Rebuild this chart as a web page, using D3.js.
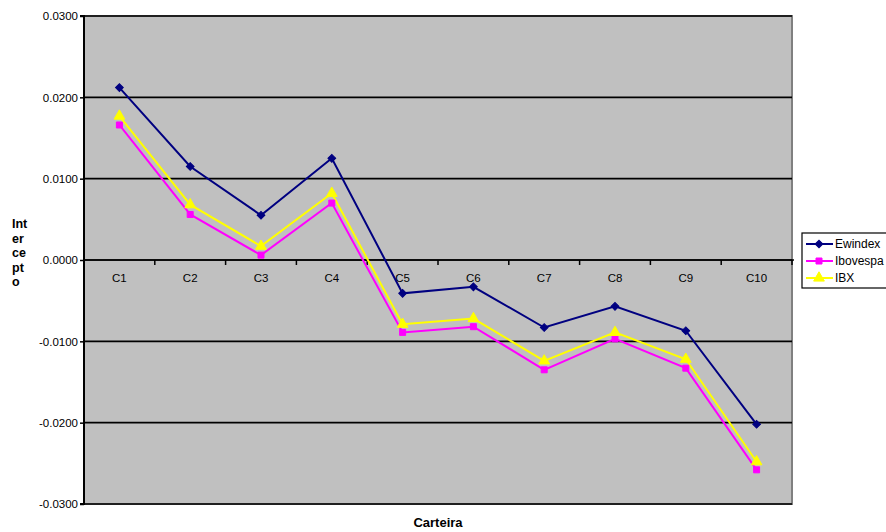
<!DOCTYPE html>
<html><head><meta charset="utf-8">
<script src="https://cdn.jsdelivr.net/npm/d3@7"></script>
<style>body{margin:0;background:#fff;}svg{display:block;font-family:Arial,"Liberation Sans",sans-serif;}</style>
</head><body>
<svg id="c" width="886" height="532"></svg>
<script>
const categories = ["C1","C2","C3","C4","C5","C6","C7","C8","C9","C10"];
const ewindex  = [0.0212,0.0115,0.0055,0.0125,-0.0041,-0.0033,-0.0083,-0.0057,-0.0087,-0.0202];
const ibovespa = [0.0166,0.0056,0.0006,0.0070,-0.0089,-0.0082,-0.0135,-0.0097,-0.0133,-0.0258];
const ibx      = [0.0177,0.0068,0.0017,0.0082,-0.0079,-0.0072,-0.0124,-0.0089,-0.0122,-0.0248];
const yTicks = [0.03,0.02,0.01,0,-0.01,-0.02,-0.03];
const seriesNames = ["Ewindex","Ibovespa","IBX"];
const xTitle = "Carteira";
const yTitleLines = ["Int","er","ce","pt","o"];

const series = [
  {name:seriesNames[0], values:ewindex, color:"#000080", sym:d3.symbolSquare, size:30, rot:45},
  {name:seriesNames[1], values:ibovespa, color:"#ff00ff", sym:d3.symbolSquare, size:36, rot:0},
  {name:seriesNames[2], values:ibx, color:"#ffff00", sym:d3.symbolTriangle, size:50, rot:0}
];

const svg = d3.select("#c");
const L=84, R=792, T=16, B=504;
const x = d3.scaleBand().domain(categories).range([L,R]).padding(0);
const y = d3.scaleLinear().domain([-0.03,0.03]).range([B,T]);

// plot area
svg.append("rect").attr("x",L).attr("y",T).attr("width",R-L).attr("height",B-T)
  .attr("fill","#c0c0c0").attr("stroke","#808080").attr("stroke-width",2);

// gridlines
svg.append("g").selectAll("line").data(yTicks).join("line")
  .attr("x1",L).attr("x2",R).attr("y1",d=>y(d)).attr("y2",d=>y(d))
  .attr("stroke","#000").attr("stroke-width",1.6);

// y axis
const yAxis = d3.axisLeft(y).tickValues(yTicks).tickSize(4).tickPadding(2).tickFormat(d3.format(".4f"));
const gy = svg.append("g").attr("transform",`translate(${L},0)`).call(yAxis);
gy.select(".domain").attr("stroke","#000").attr("stroke-width",2).attr("d",`M-4,${T}H0V${B}H-4`);
gy.selectAll(".tick line").attr("stroke","#000").attr("stroke-width",1.5);
gy.selectAll(".tick text").attr("font-size",11.5).attr("fill","#000")
  .attr("font-family","Arial,'Liberation Sans',sans-serif").text(d=>d3.format(".4f")(d).replace("−","-"));

// x axis at zero
const xAxis = d3.axisBottom(x).tickSize(0).tickPadding(14);
const gx = svg.append("g").attr("transform",`translate(0,${y(0)})`).call(xAxis);
gx.select(".domain").remove();
gx.selectAll(".tick text").attr("font-size",11.5).attr("fill","#000")
  .attr("font-family","Arial,'Liberation Sans',sans-serif");
// tick marks at band boundaries
const bounds = categories.map(c=>x(c)).concat([R]);
svg.append("g").selectAll("line").data(bounds).join("line")
  .attr("x1",d=>d).attr("x2",d=>d).attr("y1",y(0)).attr("y2",y(0)+5)
  .attr("stroke","#000").attr("stroke-width",1.5);
svg.append("line").attr("x1",L).attr("x2",R+2).attr("y1",y(0)).attr("y2",y(0)).attr("stroke","#000").attr("stroke-width",1.6);

// lines
const line = d3.line().x((d,i)=>x(categories[i])+x.bandwidth()/2).y(d=>y(d));
series.forEach(s=>{
  svg.append("path").datum(s.values).attr("d",line).attr("fill","none")
    .attr("stroke",s.color).attr("stroke-width",2);
});
series.forEach(s=>{
  svg.append("g").selectAll("path").data(s.values).join("path")
    .attr("d",d3.symbol().type(s.sym).size(s.size))
    .attr("transform",(d,i)=>`translate(${x(categories[i])+x.bandwidth()/2},${y(d)}) rotate(${s.rot})`)
    .attr("fill",s.color).attr("stroke",s.color).attr("stroke-width",1);
});

// legend
const lg = svg.append("g").attr("transform","translate(802,233)");
lg.append("rect").attr("x",0).attr("y",0).attr("width",90).attr("height",55)
  .attr("fill","#fff").attr("stroke","#000").attr("stroke-width",1.2);
series.forEach((s,i)=>{
  const yy = 11 + i*17;
  lg.append("line").attr("x1",4).attr("x2",31).attr("y1",yy).attr("y2",yy).attr("stroke",s.color).attr("stroke-width",2);
  lg.append("path").attr("d",d3.symbol().type(s.sym).size(s.size)()).attr("transform",`translate(17,${yy}) rotate(${s.rot})`)
    .attr("fill",s.color).attr("stroke",s.color);
  lg.append("text").attr("x",33).attr("y",yy+4).attr("font-size",12).attr("fill","#000").text(s.name);
});

// titles
svg.append("text").attr("x",(L+R)/2).attr("y",527).attr("text-anchor","middle")
  .attr("font-size",13).attr("font-weight","bold").text(xTitle);
const yt = svg.append("text").attr("font-size",12.5).attr("font-weight","bold");
yTitleLines.forEach((t,i)=>{
  yt.append("tspan").attr("x",12).attr("y",228+i*14.5).text(t);
});
</script>
</body></html>
